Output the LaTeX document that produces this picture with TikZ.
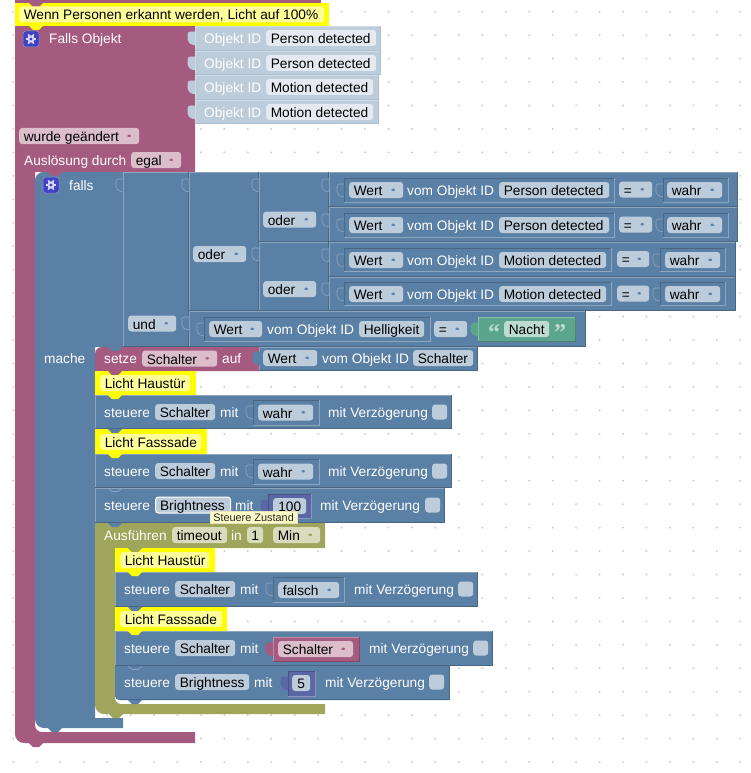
\documentclass[tikz,border=0pt]{standalone}
\usepackage{fontspec}
\setmainfont{Liberation Sans}
\newfontfamily\quotefont{Liberation Serif}

\definecolor{mplum}{HTML}{A55B80}
\definecolor{mplumlight}{HTML}{C08CA6}
\definecolor{mplumdark}{HTML}{844966}
\definecolor{mplumfld}{HTML}{DBBDCC}
\definecolor{mblue}{HTML}{5B80A5}
\definecolor{mbluelight}{HTML}{8CA6C0}
\definecolor{mbluedark}{HTML}{496684}
\definecolor{molive}{HTML}{9FA55B}
\definecolor{molivefld}{HTML}{D9DBBD}
\definecolor{mgreen}{HTML}{5BA58C}
\definecolor{mgreenlight}{HTML}{8CC0AE}
\definecolor{mgreendark}{HTML}{498470}
\definecolor{mgreenfld}{HTML}{BDDBD1}
\definecolor{mindigo}{HTML}{5B67A5}
\definecolor{mindigolight}{HTML}{8C95C0}
\definecolor{mindigodark}{HTML}{495284}
\definecolor{mshadow}{HTML}{BDCCDB}
\definecolor{mshadowlight}{HTML}{D1DBE5}
\definecolor{mshadowdark}{HTML}{AEBFD0}
\definecolor{mshadowfld}{HTML}{E4EAF0}
\definecolor{myellow}{HTML}{FFFF00}
\definecolor{mpale}{HTML}{FFFF99}
\definecolor{mgearbg}{HTML}{4242C4}

\tikzset{
  fld/.style={anchor=west, rounded corners=3, inner xsep=0, inner ysep=1.5, text=black,
    text height=12, text depth=1, font=\fontsize{13.7}{16}\selectfont,
    align=flush left, text width=#1pt, execute at begin node={\hspace*{4.6pt}}},
  cfld/.style={anchor=west, rounded corners=3, inner xsep=0, inner ysep=1.5, text=black,
    text height=12, text depth=1, font=\fontsize{13.7}{16}\selectfont,
    align=center, text width=#1pt},
  tri/.style={path picture={\fill[#1] ([xshift=-13pt,yshift=1.5pt]path picture bounding box.east)
    -- ++(6,0) -- ++(-3,4) -- cycle;}},
  fblue/.style={fld=#1, fill=mshadow},
  fplum/.style={fld=#1, fill=mplumfld},
  folive/.style={fld=#1, fill=molivefld},
  fgreen/.style={cfld=#1, fill=mgreenfld},
  findigo/.style={cfld=#1, fill=mshadow},
  fshadow/.style={fld=#1, fill=mshadowfld},
  fnote/.style={fld=#1, fill=mpale},
  ddblue/.style={fblue=#1, tri=mblue},
  ddplum/.style={fplum=#1, tri=mplum},
  ddolive/.style={folive=#1, tri=molive},
  lbl/.style={anchor=west, inner sep=0, text=white, text height=12, text depth=1,
    font=\fontsize{13.7}{16}\selectfont},
  quot/.style={lbl, text=mgreenfld, font=\quotefont\bfseries\fontsize{24}{24}\selectfont,
    text height=16, text depth=0},
  chk/.style={anchor=west, rounded corners=3, fill=mshadow, inner sep=0, minimum size=15},
  gearbox/.style={rounded corners=3, fill=mgearbg, draw=mindigolight, line width=.5,
    inner sep=0, minimum size=16},
  tip/.style={anchor=west, fill=yellow!22!white, draw=yellow!45!gray!40!white, line width=.5, inner xsep=3,
    inner ysep=2, text=black!85, font=\fontsize{10.9}{12}\selectfont}
}

\newcommand{\bbox}[5]{
  \fill[#5] (#1,#2) rectangle (#3,#4);
  \draw[#5light,line width=.7] (#1+.3,#4) -- (#1+.3,#2+.3) -- (#3,#2+.3);
  \draw[#5dark,line width=.7] (#3-.3,#2) -- (#3-.3,#4-.3) -- (#1,#4-.3);
}
\newcommand{\valbox}[5]{
  \fill[#5] (#1,#2) rectangle (#3,#4);
  \draw[#5dark,line width=.7] (#1+.4,#4) -- (#1+.4,#2+.4) -- (#3,#2+.4);
  \draw[#5light,line width=.7] (#3-.4,#2) -- (#3-.4,#4-.4) -- (#1,#4-.4);
}
\newcommand{\jig}[4]{
  \filldraw[fill=#3, draw=#4, line width=.6, rounded corners=2]
    (#1,#2-6) -- (#1-7,#2-6) -- (#1-7,#2+4) -- (#1-2,#2+7) -- (#1,#2+7);
}
\newcommand{\notch}[3]{
  \fill[#3] (#1-7,#2) -- (#1-3,#2+4) -- (#1+3,#2+4) -- (#1+7,#2) -- cycle;
}
\newcommand{\gear}[1]{
  \foreach \a in {0,60,...,300}
    \draw[white!85!blue, line width=1.6] (#1) ++(\a:3) -- ++(\a:2.4);
  \fill[white!85!blue] (#1) circle (3.7);
  \fill[mgearbg] (#1) circle (1.7);
}

\begin{document}
\begin{tikzpicture}[x=1pt,y=-1pt]
  \useasboundingbox (0,0) rectangle (750,773);

  % raster behind the blocks
  \foreach \i in {0,...,31}
    \foreach \j in {0,...,32}
      \fill[black!20] (13.3+23.45*\i,11.7+23.45*\j) circle (1.1);

  % outer trigger block
  \fill[mplum] (15,26) -- (195,26) -- (195,172) -- (35,172) [rounded corners=7] -- (35,732)
    [sharp corners] -- (195,732) -- (195,743) [rounded corners=9] -- (15,743) [sharp corners] -- cycle;
  \notch{36}{743}{mplum}
  \fill[mplum] (15,0) rectangle (321,3);
  \fill[myellow] (15,3) rectangle (329,26);
  \notch{36}{3}{mplum}
  \notch{36}{26}{myellow}

  \bbox{195}{26}{381}{51}{mshadow}
  \bbox{195}{51}{381}{75}{mshadow}
  \bbox{195}{75}{379}{100}{mshadow}
  \bbox{195}{100}{379}{124}{mshadow}
  \jig{195}{38}{mshadow}{mshadow}
  \jig{195}{63}{mshadow}{mshadow}
  \jig{195}{87}{mshadow}{mshadow}
  \jig{195}{112}{mshadow}{mshadow}

  % falls block
  \fill[mblue] (45,172) -- (123,172) -- (123,347) -- (95,347) -- (95,718) -- (123,718) -- (123,728)
    [rounded corners=9] -- (35,728) -- (35,172) [sharp corners] -- (45,172) -- cycle;
  \fill[mblue, rounded corners=9] (35,172) -- (35,190) -- (60,190) -- (60,172) -- cycle;
  \notch{55}{172}{mplum}
  \notch{55}{728}{mblue}
  \draw[mbluelight, line width=.7] (123,172) -- (123,347);

  % nested conditions
  \bbox{123}{172}{189}{347}{mblue}
  \bbox{189}{172}{259}{311}{mblue}
  \bbox{259}{172}{329}{242}{mblue}
  \bbox{259}{242}{329}{311}{mblue}
  \bbox{329}{172}{738}{207}{mblue}
  \bbox{329}{207}{738}{242}{mblue}
  \bbox{329}{242}{736}{277}{mblue}
  \bbox{329}{277}{736}{311}{mblue}
  \bbox{189}{311}{586}{347}{mblue}
  \jig{123}{185}{mblue}{mbluelight}
  \jig{189}{185}{mblue}{mbluelight}
  \jig{259}{185}{mblue}{mbluelight}
  \jig{329}{185}{mblue}{mbluelight}
  \jig{329}{220}{mblue}{mbluelight}
  \jig{259}{254}{mblue}{mbluelight}
  \jig{329}{255}{mblue}{mbluelight}
  \jig{329}{289}{mblue}{mbluelight}
  \jig{189}{323}{mblue}{mbluelight}

  \valbox{344}{178}{615}{203}{mblue}
  \valbox{344}{213}{615}{238}{mblue}
  \valbox{344}{248}{612}{272}{mblue}
  \valbox{344}{282}{612}{306}{mblue}
  \valbox{204}{317}{431}{342}{mblue}
  \valbox{663}{178}{729}{203}{mblue}
  \valbox{663}{213}{729}{238}{mblue}
  \valbox{660}{248}{726}{272}{mblue}
  \valbox{660}{282}{726}{306}{mblue}
  \jig{344}{190}{mblue}{mbluelight}
  \jig{344}{225}{mblue}{mbluelight}
  \jig{344}{260}{mblue}{mbluelight}
  \jig{344}{294}{mblue}{mbluelight}
  \jig{204}{329}{mblue}{mbluelight}
  \jig{663}{190}{mblue}{mbluelight}
  \jig{663}{225}{mblue}{mbluelight}
  \jig{660}{260}{mblue}{mbluelight}
  \jig{660}{294}{mblue}{mbluelight}
  \bbox{478}{317}{576}{342}{mgreen}
  \jig{478}{329}{mgreen}{mgreen}

  % statements under mache
  \fill[mplum] (103,347) -- (260,347) -- (260,371) -- (95,371) -- (95,355) [rounded corners=7] -- (95,347) [sharp corners] -- cycle;
  \notch{115}{347}{mblue}
  \bbox{259}{347}{478}{371}{mblue}
  \jig{260}{358}{mblue}{mblue}
  \fill[myellow] (95,371) rectangle (196,395);
  \notch{115}{371}{mplum}
  \bbox{95}{395}{452}{429}{mblue}
  \notch{115}{395}{myellow}
  \fill[myellow] (95,429) rectangle (207,454);
  \notch{115}{429}{mblue}
  \bbox{95}{454}{452}{488}{mblue}
  \notch{115}{454}{myellow}
  \bbox{95}{488}{445}{523}{mblue}
  \draw[mbluelight, line width=.7] (108,488.3) -- (112,491.5) -- (118,491.5) -- (122,488.3);
  \valbox{253}{400}{320}{426}{mblue}
  \valbox{253}{459}{320}{485}{mblue}
  \valbox{268}{494}{312}{519}{mindigo}
  \jig{253}{412}{mblue}{mbluelight}
  \jig{253}{471}{mblue}{mbluelight}
  \jig{268}{506}{mindigo}{mindigo}

  % timeout block
  \fill[molive] (95,523) -- (325,523) -- (325,548) -- (115,548) [rounded corners=6] -- (115,704)
    [sharp corners] -- (325,704) -- (325,714) [rounded corners=9] -- (95,714) [sharp corners] -- cycle;
  \notch{115}{523}{mblue}
  \notch{116}{714}{molive}
  \fill[myellow] (115,548) rectangle (215,572);
  \notch{135}{548}{molive}
  \bbox{115}{572}{478}{607}{mblue}
  \notch{135}{572}{myellow}
  \fill[myellow] (115,607) rectangle (227,631);
  \notch{135}{607}{mblue}
  \bbox{115}{631}{493}{666}{mblue}
  \notch{135}{631}{myellow}
  \fill[mblue] (115,666) -- (449,666) -- (449,700) [rounded corners=4] -- (115,700) [sharp corners] -- cycle;
  \draw[mbluedark, line width=.7] (449,666) -- (449,699.6) -- (120,699.6);
  \draw[mbluelight, line width=.7] (128,666.3) -- (132,669.5) -- (138,669.5) -- (142,666.3);
  \notch{135}{700}{mblue}
  \valbox{273}{577}{345}{603}{mblue}
  \bbox{273}{637}{360}{662}{mplum}
  \valbox{288}{671}{316}{697}{mindigo}
  \jig{273}{589}{mblue}{mbluelight}
  \jig{273}{649}{mplum}{mplum}
  \jig{288}{683}{mindigo}{mindigo}

  % header and trigger texts
  \node[fnote=305] (titel) at (19,14.5) {Wenn Personen erkannt werden, Licht auf 100\%};
  \node[gearbox] (gearobj) at (31,39) {};
  \gear{gearobj}
  \node[lbl] (fallsobj) at (49,38) {Falls Objekt};
  \node[lbl] (id1) at (204,38) {Objekt ID};
  \node[lbl] (id2) at (204,63) {Objekt ID};
  \node[lbl] (id3) at (204,87) {Objekt ID};
  \node[lbl] (id4) at (204,112) {Objekt ID};
  \node[fshadow=110] (person1) at (266,38) {Person detected};
  \node[fshadow=110] (person2) at (266,63) {Person detected};
  \node[fshadow=107] (motion1) at (266,87) {Motion detected};
  \node[fshadow=107] (motion2) at (266,112) {Motion detected};
  \node[ddplum=120] (geaendert) at (19,136) {wurde geändert};
  \node[lbl] (ausl) at (24,160) {Auslösung durch};
  \node[ddplum=50] (egal) at (131,160) {egal};

  % condition texts
  \node[gearbox] (gearfalls) at (51,185) {};
  \gear{gearfalls}
  \node[lbl] (falls) at (69,185) {falls};
  \node[lbl] (mache) at (44,358) {mache};
  \node[ddblue=53] (oder1) at (263,219.5) {oder};
  \node[ddblue=53] (oder2) at (193,254) {oder};
  \node[ddblue=53] (oder3) at (263,289) {oder};
  \node[ddblue=48] (und) at (128,323.5) {und};

  \node[ddblue=54] (wert1) at (349,190) {Wert};
  \node[lbl] (vom1) at (407,190) {vom Objekt ID};
  \node[fblue=110] (pers1) at (499,190) {Person detected};
  \node[ddblue=33] (eq1) at (619,189.5) {=};
  \node[ddblue=55] (wahr1) at (667,190) {wahr};

  \node[ddblue=54] (wert2) at (349,225) {Wert};
  \node[lbl] (vom2) at (407,225) {vom Objekt ID};
  \node[fblue=110] (pers2) at (499,225) {Person detected};
  \node[ddblue=33] (eq2) at (619,224.5) {=};
  \node[ddblue=55] (wahr2) at (667,225) {wahr};

  \node[ddblue=54] (wert3) at (349,260) {Wert};
  \node[lbl] (vom3) at (407,260) {vom Objekt ID};
  \node[fblue=107] (mot1) at (499,260) {Motion detected};
  \node[ddblue=32] (eq3) at (617,259) {=};
  \node[ddblue=55] (wahr3) at (665,260) {wahr};

  \node[ddblue=54] (wert4) at (349,294) {Wert};
  \node[lbl] (vom4) at (407,294) {vom Objekt ID};
  \node[fblue=107] (mot2) at (499,294) {Motion detected};
  \node[ddblue=32] (eq4) at (617,293.5) {=};
  \node[ddblue=55] (wahr4) at (665,294) {wahr};

  \node[ddblue=53] (wert5) at (209,329) {Wert};
  \node[lbl] (vom5) at (267,329) {vom Objekt ID};
  \node[fblue=65] (hell) at (359,329) {Helligkeit};
  \node[ddblue=33] (eq5) at (434,329) {=};
  \node[quot] (qopen) at (488,332) {“};
  \node[fgreen=45] (nacht) at (504,329) {Nacht};
  \node[quot] (qclose) at (554,332) {”};

  % action texts
  \node[lbl] (setze) at (104,358) {setze};
  \node[ddplum=75] (varsetze) at (142,358.5) {Schalter};
  \node[lbl] (auf) at (222,358) {auf};
  \node[ddblue=54] (wert6) at (263,358) {Wert};
  \node[lbl] (vom6) at (322,358) {vom Objekt ID};
  \node[fblue=60] (schalt) at (413,358) {Schalter};

  \node[fnote=90] (haus1) at (100,383) {Licht Haustür};
  \node[lbl] (st1) at (104,412) {steuere};
  \node[fblue=60] (sch1) at (155,412) {Schalter};
  \node[lbl] (mit1) at (220,412) {mit};
  \node[ddblue=55] (wahr5) at (258,412.5) {wahr};
  \node[lbl] (verz1) at (328,412) {mit Verzögerung};
  \node[chk] (chk1) at (432,412) {};

  \node[fnote=101] (fass1) at (100,442) {Licht Fasssade};
  \node[lbl] (st2) at (104,471) {steuere};
  \node[fblue=60] (sch2) at (155,471) {Schalter};
  \node[lbl] (mit2) at (220,471) {mit};
  \node[ddblue=55] (wahr6) at (258,471.5) {wahr};
  \node[lbl] (verz2) at (328,471) {mit Verzögerung};
  \node[chk] (chk2) at (432,471) {};

  \node[lbl] (st3) at (104,505) {steuere};
  \node[fblue=75, draw=white, line width=1] (bright1) at (155,505) {Brightness};
  \node[lbl] (mit3) at (235,505) {mit};
  \node[findigo=33] (hundert) at (273,506) {100};
  \node[lbl] (verz3) at (320,505) {mit Verzögerung};
  \node[chk] (chk3) at (425,505) {};

  \node[lbl] (ausf) at (104,535) {Ausführen};
  \node[folive=55] (timeout) at (172,535) {timeout};
  \node[lbl] (in) at (231,535) {in};
  \node[cfld=16, fill=molivefld] (eins) at (247,535) {1};
  \node[ddolive=47] (min) at (273,535) {Min};

  \node[fnote=89] (haus2) at (120,560) {Licht Haustür};
  \node[lbl] (st4) at (124,589) {steuere};
  \node[fblue=60] (sch3) at (175,589) {Schalter};
  \node[lbl] (mit4) at (240,589) {mit};
  \node[ddblue=61] (falsch) at (278,590) {falsch};
  \node[lbl] (verz4) at (354,589) {mit Verzögerung};
  \node[chk] (chk4) at (458,589) {};

  \node[fnote=102] (fass2) at (120,619) {Licht Fasssade};
  \node[lbl] (st5) at (124,648) {steuere};
  \node[fblue=60] (sch4) at (175,648) {Schalter};
  \node[lbl] (mit5) at (240,648) {mit};
  \node[ddplum=75] (varsch) at (278,649) {Schalter};
  \node[lbl] (verz5) at (369,648) {mit Verzögerung};
  \node[chk] (chk5) at (473,648) {};

  \node[lbl] (st6) at (124,682) {steuere};
  \node[fblue=74] (bright2) at (175,682) {Brightness};
  \node[lbl] (mit6) at (254,682) {mit};
  \node[findigo=18] (fuenf) at (292,683) {5};
  \node[lbl] (verz6) at (325,682) {mit Verzögerung};
  \node[chk] (chk6) at (429,682) {};

  \node[tip] (tooltip) at (210,517.5) {Steuere Zustand};
\end{tikzpicture}
\end{document}
